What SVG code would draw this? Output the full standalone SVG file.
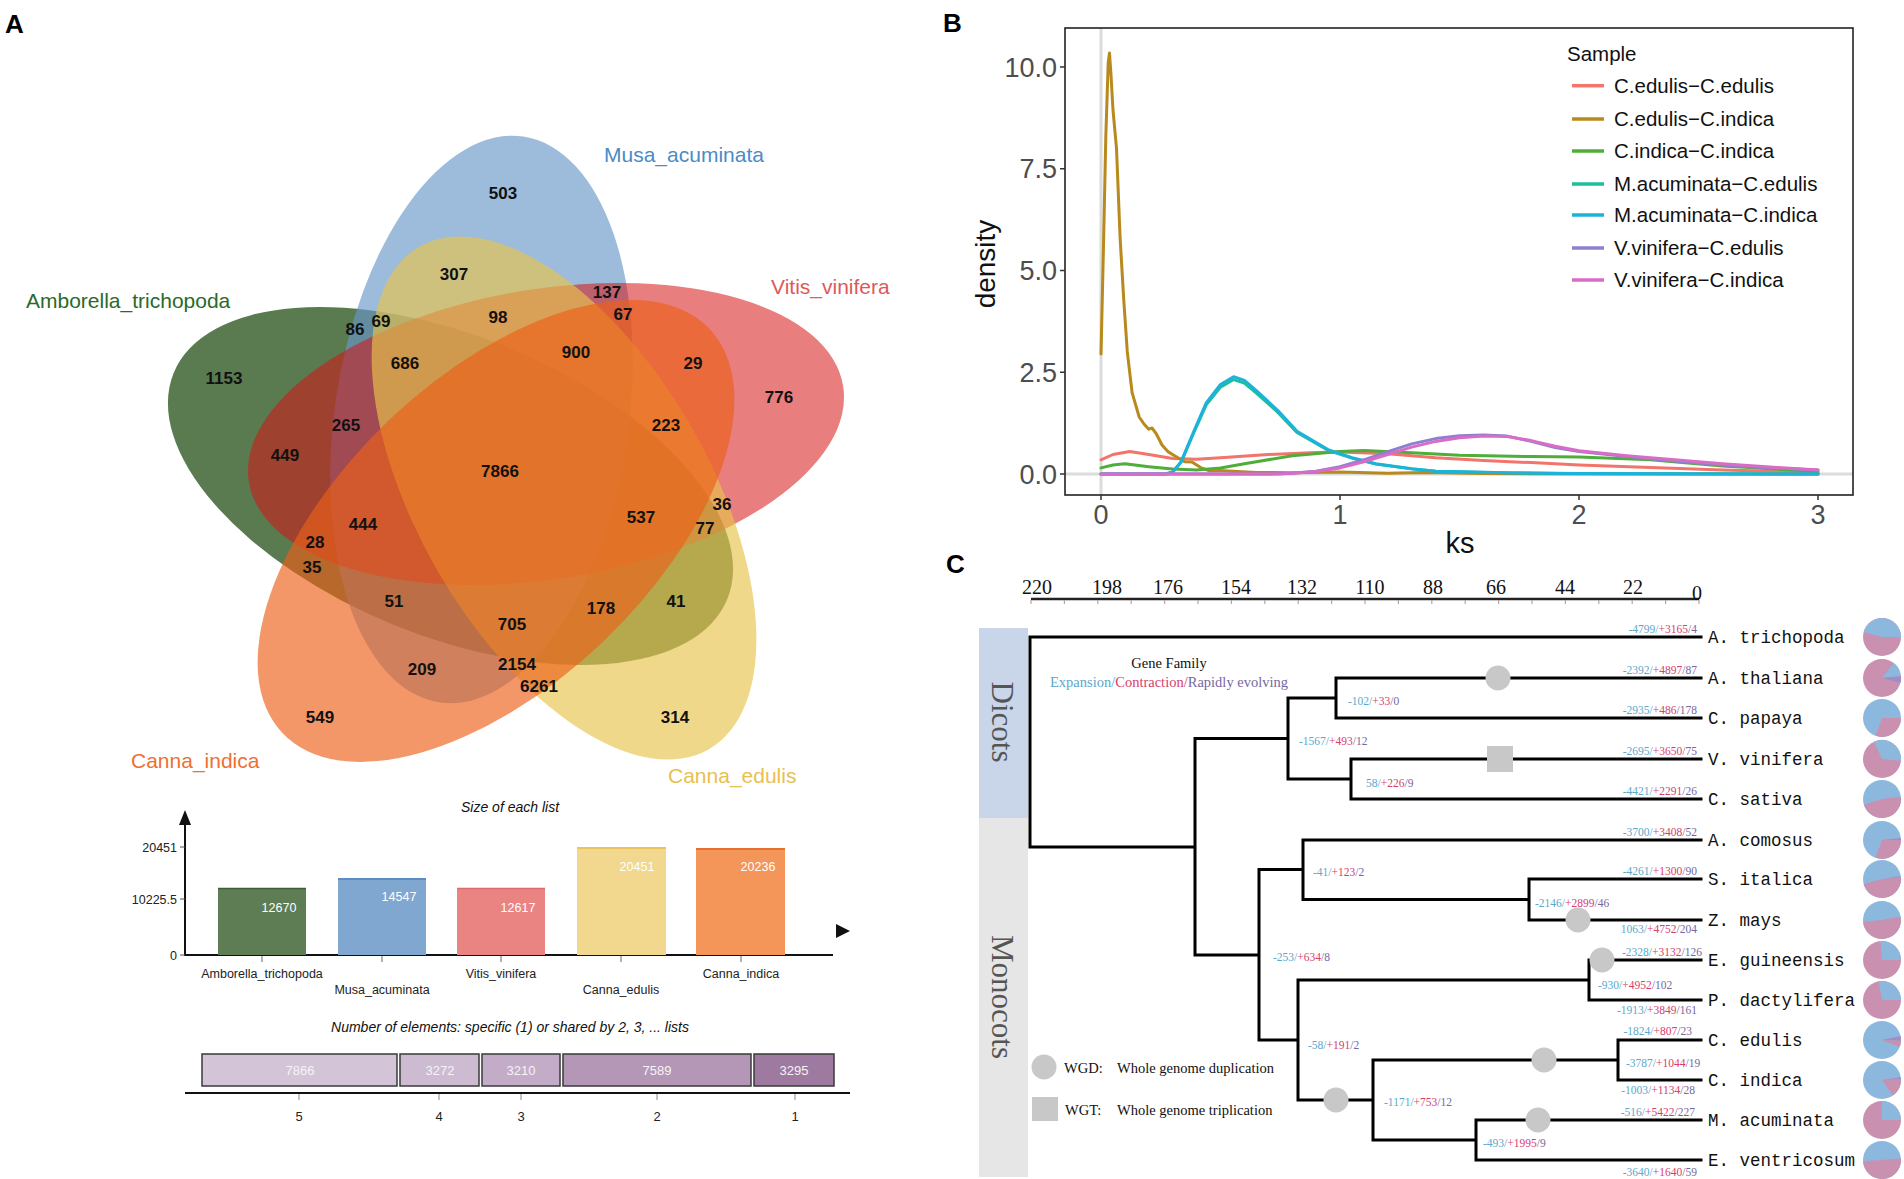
<svg xmlns="http://www.w3.org/2000/svg" width="1904" height="1179" viewBox="0 0 1904 1179">
<style>
.pl{font-family:"Liberation Sans",Arial,sans-serif;font-weight:bold;font-size:26px;fill:#000}
.vn{font-family:"Liberation Sans",Arial,sans-serif;font-weight:bold;font-size:17px;fill:#111;text-anchor:middle}
.vl{font-family:"Liberation Sans",Arial,sans-serif;font-size:21px}
.sm{font-family:"Liberation Sans",Arial,sans-serif;font-size:12.5px;fill:#222}
.smw{font-family:"Liberation Sans",Arial,sans-serif;font-size:12.5px;fill:#fff;text-anchor:middle}
.it{font-family:"Liberation Sans",Arial,sans-serif;font-style:italic;font-size:14px;fill:#111;text-anchor:middle}
.tk{font-family:"Liberation Sans",Arial,sans-serif;font-size:27px;fill:#4d4d4d}
.lg{font-family:"Liberation Sans",Arial,sans-serif;font-size:20.5px;fill:#111}
.cur{fill:none;stroke-width:3;stroke-linejoin:round;stroke-linecap:round}
.ser{font-family:"Liberation Serif","Times New Roman",serif}
.sp{font-family:"Liberation Mono","Courier New",monospace;font-size:17.5px;fill:#111}
.bl{font-family:"Liberation Serif","Times New Roman",serif;font-size:11.5px}
.e{fill:#5aa8cc}.c{fill:#d8406c}.r{fill:#76679e}
.br{fill:none;stroke:#000;stroke-width:3;stroke-linecap:square}
.wgd{fill:#c8c8c8}
.pb{fill:#8cb8de}.pp{fill:#c990b0}.pu{fill:#a08cc8}
</style>

<!-- Panel labels -->
<text class="pl" x="5" y="33">A</text>
<text class="pl" x="943" y="32">B</text>
<text class="pl" x="946" y="573">C</text>

<!-- ===== Panel A: Venn ===== -->
<g id="venn">
  <ellipse id="set-amborella" cx="450.5" cy="486" rx="299" ry="150" transform="rotate(22.2 450.5 486)" fill="#3d6331" fill-opacity="0.85"/>
  <ellipse id="set-musa" cx="481.5" cy="419.5" rx="286" ry="147" transform="rotate(98.4 481.5 419.5)" fill="#6898c9" fill-opacity="0.65"/>
  <ellipse id="set-vitis" cx="546" cy="434" rx="301" ry="145" transform="rotate(-9.2 546 434)" fill="#d71414" fill-opacity="0.55"/>
  <ellipse id="set-edulis" cx="564" cy="498" rx="290" ry="146" transform="rotate(60 564 498)" fill="#e8c34b" fill-opacity="0.65"/>
  <ellipse id="set-indica" cx="496" cy="531" rx="294" ry="154" transform="rotate(-43.4 496 531)" fill="#ec6018" fill-opacity="0.65"/>
</g>
<g id="venn-labels">
  <text class="vl" x="604" y="162" fill="#4a8cc6">Musa_acuminata</text>
  <text class="vl" x="771" y="294" fill="#e05858">Vitis_vinifera</text>
  <text class="vl" x="26" y="308" fill="#2a6a2a">Amborella_trichopoda</text>
  <text class="vl" x="131" y="768" fill="#ee7030">Canna_indica</text>
  <text class="vl" x="668" y="783" fill="#e8c050">Canna_edulis</text>
</g>
<g id="venn-counts">
  <text class="vn" x="503" y="199">503</text>
  <text class="vn" x="454" y="280">307</text>
  <text class="vn" x="607" y="298">137</text>
  <text class="vn" x="498" y="323">98</text>
  <text class="vn" x="623" y="320">67</text>
  <text class="vn" x="355" y="335">86</text>
  <text class="vn" x="381" y="327">69</text>
  <text class="vn" x="576" y="358">900</text>
  <text class="vn" x="405" y="369">686</text>
  <text class="vn" x="693" y="369">29</text>
  <text class="vn" x="224" y="384">1153</text>
  <text class="vn" x="779" y="403">776</text>
  <text class="vn" x="346" y="431">265</text>
  <text class="vn" x="666" y="431">223</text>
  <text class="vn" x="285" y="461">449</text>
  <text class="vn" x="500" y="477">7866</text>
  <text class="vn" x="722" y="510">36</text>
  <text class="vn" x="641" y="523">537</text>
  <text class="vn" x="363" y="530">444</text>
  <text class="vn" x="705" y="534">77</text>
  <text class="vn" x="315" y="548">28</text>
  <text class="vn" x="312" y="573">35</text>
  <text class="vn" x="394" y="607">51</text>
  <text class="vn" x="676" y="607">41</text>
  <text class="vn" x="601" y="614">178</text>
  <text class="vn" x="512" y="630">705</text>
  <text class="vn" x="517" y="670">2154</text>
  <text class="vn" x="422" y="675">209</text>
  <text class="vn" x="539" y="692">6261</text>
  <text class="vn" x="320" y="723">549</text>
  <text class="vn" x="675" y="723">314</text>
</g>

<!-- ===== Panel A: Size of each list ===== -->
<g id="size-chart">
  <text class="it" x="510" y="812">Size of each list</text>
  <polygon points="185,810 179,825 191,825" fill="#111"/>
  <line x1="185" y1="822" x2="185" y2="955" stroke="#111" stroke-width="2"/>
  <line x1="184" y1="955" x2="833" y2="955" stroke="#111" stroke-width="2"/>
  <polygon points="836,924 836,938 850,931" fill="#111"/>
  <path d="M180,847H185M180,899H185M180,955H185" stroke="#555" stroke-width="1"/>
  <text class="sm" x="177" y="852" text-anchor="end">20451</text>
  <text class="sm" x="177" y="904" text-anchor="end">10225.5</text>
  <text class="sm" x="177" y="960" text-anchor="end">0</text>
  <g id="bar-amborella"><rect x="218" y="888" width="88" height="67" fill="#5e7d55"/><line x1="218" y1="888.5" x2="306" y2="888.5" stroke="#3f5e38" stroke-width="1.5"/><text class="smw" x="279" y="912">12670</text></g>
  <g id="bar-musa"><rect x="338" y="878" width="88" height="77" fill="#7fa7d0"/><line x1="338" y1="879" x2="426" y2="879" stroke="#5b8cc2" stroke-width="2"/><text class="smw" x="399" y="901">14547</text></g>
  <g id="bar-vitis"><rect x="457" y="888" width="88" height="67" fill="#ea8482"/><line x1="457" y1="888.5" x2="545" y2="888.5" stroke="#e06a68" stroke-width="1.5"/><text class="smw" x="518" y="912">12617</text></g>
  <g id="bar-edulis"><rect x="577" y="847" width="89" height="108" fill="#f1d88e"/><line x1="577" y1="848" x2="666" y2="848" stroke="#e8c45a" stroke-width="2"/><text class="smw" x="637" y="871">20451</text></g>
  <g id="bar-indica"><rect x="696" y="848" width="89" height="107" fill="#f4955a"/><line x1="696" y1="849" x2="785" y2="849" stroke="#e8702e" stroke-width="2"/><text class="smw" x="758" y="871">20236</text></g>
  <path d="M262,956V962M382,956V962M501,956V962M621,956V962M741,956V962" stroke="#666" stroke-width="1"/>
  <text class="sm" x="262" y="978" text-anchor="middle">Amborella_trichopoda</text>
  <text class="sm" x="382" y="994" text-anchor="middle">Musa_acuminata</text>
  <text class="sm" x="501" y="978" text-anchor="middle">Vitis_vinifera</text>
  <text class="sm" x="621" y="994" text-anchor="middle">Canna_edulis</text>
  <text class="sm" x="741" y="978" text-anchor="middle">Canna_indica</text>
</g>

<!-- ===== Panel A: shared elements ===== -->
<g id="shared-chart">
  <text class="it" x="510" y="1032">Number of elements: specific (1) or shared by 2, 3, ... lists</text>
  <g stroke="#3a3a3a" stroke-width="1.5">
    <rect id="seg5" x="202" y="1054" width="195" height="32" fill="#d3c5d7"/>
    <rect id="seg4" x="400" y="1054" width="79" height="32" fill="#cdbbd1"/>
    <rect id="seg3" x="482" y="1054" width="78" height="32" fill="#c3acc8"/>
    <rect id="seg2" x="563" y="1054" width="188" height="32" fill="#b497b7"/>
    <rect id="seg1" x="754" y="1054" width="80" height="32" fill="#9e79a0"/>
  </g>
  <g class="smw" style="font-size:13px;fill:#f4f4f4">
    <text x="300" y="1075">7866</text>
    <text x="440" y="1075">3272</text>
    <text x="521" y="1075">3210</text>
    <text x="657" y="1075">7589</text>
    <text x="794" y="1075">3295</text>
  </g>
  <line x1="185" y1="1093" x2="850" y2="1093" stroke="#111" stroke-width="2"/>
  <path d="M299,1094V1100M439,1094V1100M521,1094V1100M657,1094V1100M795,1094V1100" stroke="#888" stroke-width="1"/>
  <g class="sm" text-anchor="middle" style="font-size:13px">
    <text x="299" y="1121">5</text>
    <text x="439" y="1121">4</text>
    <text x="521" y="1121">3</text>
    <text x="657" y="1121">2</text>
    <text x="795" y="1121">1</text>
  </g>
</g>

<!-- ===== Panel B: Ks density ===== -->
<g id="ks-plot">
  <rect x="1065" y="28" width="788" height="467" fill="#fff"/>
  <line x1="1101" y1="28" x2="1101" y2="495" stroke="#dcdcdc" stroke-width="3"/>
  <line x1="1065" y1="474" x2="1853" y2="474" stroke="#dcdcdc" stroke-width="3"/>
  <g id="curves">
    <polyline class="cur" stroke="#f2746b" points="1101,459.8 1113,454.5 1129.7,451.6 1148.8,454.5 1172.7,458.5 1196.6,459.3 1220.5,457.7 1268.3,454.5 1316.1,452.4 1340,452 1387.8,453.7 1435.6,457.7 1483.4,460.6 1531.2,462.6 1579,465 1650.7,467.5 1722.4,469.9 1818,472.4"/>
    <polyline class="cur" stroke="#b8891c" stroke-width="2.5" points="1101,354 1103.4,250 1105.8,137 1108.2,63 1109.5,53 1111,75 1113,110 1116.5,148.4 1120.1,237.9 1123.7,299 1127.3,351.9 1132.1,392.6 1139.2,417 1144,424 1148.8,429.2 1152,428 1156,433.3 1162,445 1167.9,451.6 1175,456 1184.7,461.8 1192,462 1201.4,467.9 1210,471 1220,470.5 1232.5,471.2 1256.4,472.4 1292.2,472.8 1340,472 1387.8,473.2 1423.7,472.4 1483.4,473.6 1579,474 1818,474"/>
    <polyline class="cur" stroke="#4fae3a" points="1101,467.9 1113,465 1124.9,463.8 1148.8,466.7 1172.7,469.1 1196.6,469.9 1220.5,467.9 1244.4,463.8 1292.2,455.7 1340,451.6 1363.9,450.4 1411.7,452.8 1459.5,455.3 1531.2,456.5 1579,456.9 1650.7,459.8 1722.4,465.9 1818,471.6"/>
    <polyline class="cur" stroke="#1dbf9a" transform="translate(0,474) scale(1,0.97) translate(0,-474)" points="1101,474 1165.5,474 1172.7,472 1181.1,461.8 1193,433.3 1206.2,402.8 1220.5,384.5 1233.6,376.7 1244.4,380.4 1256.4,390.6 1277.9,410.5 1297,431.3 1328,449.6 1352,457.7 1375.9,463.8 1411.7,468.7 1435.6,471.2 1507.3,472.8 1579,473.6 1818,474"/>
    <polyline class="cur" stroke="#1cb2da" points="1101,474 1165.5,474 1172.7,472 1181.1,461.8 1193,433.3 1206.2,402.8 1220.5,384.5 1233.6,376.7 1244.4,380.4 1256.4,390.6 1277.9,410.5 1297,431.3 1328,449.6 1352,457.7 1375.9,463.8 1411.7,468.7 1435.6,471.2 1507.3,472.8 1579,473.6 1818,474"/>
    <polyline class="cur" stroke="#8e80d0" points="1101,474 1268.3,474 1292.2,473.2 1316.1,471.2 1340,466.7 1363.9,459.8 1387.8,451.6 1411.7,443.9 1435.6,438.6 1459.5,435.7 1483.4,434.9 1507.3,436.1 1531.2,441.4 1555.1,447.5 1579,451.6 1626.8,456.5 1674.6,461 1722.4,465 1770.2,467.9 1818,469.9"/>
    <polyline class="cur" stroke="#d86cc6" points="1101,474 1280.3,474 1316.1,471.6 1340,467.9 1363.9,461.8 1387.8,454.5 1411.7,447.1 1435.6,441.4 1459.5,437.8 1483.4,436.1 1507.3,436.6 1531.2,440.6 1555.1,446.3 1579,450.8 1626.8,455.7 1674.6,459.8 1722.4,463.8 1770.2,467.1 1818,469.9"/>
  </g>
  <rect x="1065" y="28" width="788" height="467" fill="none" stroke="#222" stroke-width="1.6"/>
  <path d="M1060,67H1065M1060,168.8H1065M1060,270.5H1065M1060,372.3H1065M1060,474H1065M1101,495V500M1340,495V500M1579,495V500M1818,495V500" stroke="#333" stroke-width="1.5"/>
  <g class="tk" text-anchor="end">
    <text x="1057" y="77">10.0</text>
    <text x="1057" y="178">7.5</text>
    <text x="1057" y="280">5.0</text>
    <text x="1057" y="382">2.5</text>
    <text x="1057" y="484">0.0</text>
  </g>
  <g class="tk" text-anchor="middle">
    <text x="1101" y="524">0</text>
    <text x="1340" y="524">1</text>
    <text x="1579" y="524">2</text>
    <text x="1818" y="524">3</text>
  </g>
  <text x="1460" y="553" text-anchor="middle" style="font-family:'Liberation Sans',Arial,sans-serif;font-size:29px;fill:#111">ks</text>
  <text transform="translate(995,264) rotate(-90)" text-anchor="middle" style="font-family:'Liberation Sans',Arial,sans-serif;font-size:28px;fill:#111">density</text>
  <g id="legend">
    <text class="lg" x="1567" y="61">Sample</text>
    <g stroke-width="3.5">
      <line x1="1572" y1="85.7" x2="1604" y2="85.7" stroke="#f2746b"/>
      <line x1="1572" y1="119" x2="1604" y2="119" stroke="#b8891c"/>
      <line x1="1572" y1="151" x2="1604" y2="151" stroke="#4fae3a"/>
      <line x1="1572" y1="184" x2="1604" y2="184" stroke="#1dbf9a"/>
      <line x1="1572" y1="215" x2="1604" y2="215" stroke="#1cb2da"/>
      <line x1="1572" y1="248" x2="1604" y2="248" stroke="#8e80d0"/>
      <line x1="1572" y1="280" x2="1604" y2="280" stroke="#d86cc6"/>
    </g>
    <text class="lg" x="1614" y="93">C.edulis−C.edulis</text>
    <text class="lg" x="1614" y="126">C.edulis−C.indica</text>
    <text class="lg" x="1614" y="158">C.indica−C.indica</text>
    <text class="lg" x="1614" y="191">M.acuminata−C.edulis</text>
    <text class="lg" x="1614" y="222">M.acuminata−C.indica</text>
    <text class="lg" x="1614" y="255">V.vinifera−C.edulis</text>
    <text class="lg" x="1614" y="287">V.vinifera−C.indica</text>
  </g>
</g>

<!-- ===== Panel C: phylogeny ===== -->
<g id="time-axis">
  <line x1="1031" y1="599" x2="1699" y2="599" stroke="#222" stroke-width="2.5"/>
  <path d="M1031,600v4M1064.4,600v4M1097.8,600v4M1131.2,600v4M1164.6,600v4M1198,600v4M1231.4,600v4M1264.8,600v4M1298.2,600v4M1331.6,600v4M1365,600v4M1398.4,600v4M1431.8,600v4M1465.2,600v4M1498.6,600v4M1532,600v4M1565.4,600v4M1598.8,600v4M1632.2,600v4M1665.6,600v4M1699,600v4" stroke="#b9a0aa" stroke-width="1.2"/>
  <g class="ser" style="font-size:20px;fill:#111" text-anchor="middle">
    <text x="1037" y="594">220</text>
    <text x="1107" y="594">198</text>
    <text x="1168" y="594">176</text>
    <text x="1236" y="594">154</text>
    <text x="1302" y="594">132</text>
    <text x="1370" y="594">110</text>
    <text x="1433" y="594">88</text>
    <text x="1496" y="594">66</text>
    <text x="1565" y="594">44</text>
    <text x="1633" y="594">22</text>
    <text x="1697" y="600">0</text>
  </g>
</g>

<g id="clade-bars">
  <rect x="979" y="628" width="49" height="190" fill="#c9d5e9"/>
  <rect x="979" y="818" width="49" height="359" fill="#e6e6e6"/>
  <text class="ser" transform="translate(992,722) rotate(90)" text-anchor="middle" style="font-size:31px;fill:#555">Dicots</text>
  <text class="ser" transform="translate(992,997) rotate(90)" text-anchor="middle" style="font-size:31px;fill:#555">Monocots</text>
</g>

<g id="gene-family-legend" class="ser">
  <text x="1169" y="668" text-anchor="middle" style="font-size:14.5px;fill:#111">Gene Family</text>
  <text x="1169" y="687" text-anchor="middle" style="font-size:14.5px"><tspan class="e">Expansion/</tspan><tspan class="c">Contraction/</tspan><tspan class="r">Rapidly evolving</tspan></text>
</g>

<g id="connectors">
  <path class="br" d="M1030,637H1701 M1030,637V847H1195 M1195,738.5V955
  M1195,738.5H1288 M1288,698V779 M1288,698H1336 M1336,678V718 M1336,678H1701 M1336,718H1701
  M1288,779H1351 M1351,759V799 M1351,759H1701 M1351,799H1701
  M1195,955H1259 M1259,869.5V1040 M1259,869.5H1303 M1303,840V899.5 M1303,840H1701
  M1303,899.5H1529 M1529,879V920 M1529,879H1701 M1529,920H1701
  M1259,1040H1298 M1298,980V1100 M1298,980H1589 M1589,960V1000 M1589,960H1701 M1589,1000H1701
  M1298,1100H1373 M1373,1060V1140 M1373,1060H1618 M1618,1040V1080 M1618,1040H1701 M1618,1080H1701
  M1373,1140H1476 M1476,1120V1160 M1476,1120H1701 M1476,1160H1701"/>
</g>

<g id="events">
  <circle class="wgd" cx="1498" cy="678" r="12.5"/>
  <rect class="wgd" x="1487" y="746" width="26" height="26"/>
  <circle class="wgd" cx="1578" cy="920" r="12.5"/>
  <circle class="wgd" cx="1602" cy="960" r="12.5"/>
  <circle class="wgd" cx="1336" cy="1100" r="12.5"/>
  <circle class="wgd" cx="1544" cy="1060" r="12.5"/>
  <circle class="wgd" cx="1538" cy="1120" r="12.5"/>
</g>

<g id="event-legend" class="ser" style="font-size:14.5px;fill:#111">
  <circle class="wgd" cx="1044" cy="1067" r="12.5"/>
  <rect class="wgd" x="1032" y="1097" width="26" height="24"/>
  <text x="1064" y="1073">WGD:</text><text x="1117" y="1073">Whole genome duplication</text>
  <text x="1065" y="1115">WGT:</text><text x="1117" y="1115">Whole genome triplication</text>
</g>

<g id="node-labels" class="bl">
  <text x="1348" y="705"><tspan class="e">-102/</tspan><tspan class="c">+33</tspan><tspan class="r">/0</tspan></text>
  <text x="1299" y="745"><tspan class="e">-1567/</tspan><tspan class="c">+493</tspan><tspan class="r">/12</tspan></text>
  <text x="1366" y="787"><tspan class="e">58/</tspan><tspan class="c">+226</tspan><tspan class="r">/9</tspan></text>
  <text x="1313" y="876"><tspan class="e">-41/</tspan><tspan class="c">+123</tspan><tspan class="r">/2</tspan></text>
  <text x="1535" y="907"><tspan class="e">-2146/</tspan><tspan class="c">+2899</tspan><tspan class="r">/46</tspan></text>
  <text x="1273" y="961"><tspan class="e">-253/</tspan><tspan class="c">+634</tspan><tspan class="r">/8</tspan></text>
  <text x="1598" y="989"><tspan class="e">-930/</tspan><tspan class="c">+4952</tspan><tspan class="r">/102</tspan></text>
  <text x="1308" y="1049"><tspan class="e">-58/</tspan><tspan class="c">+191</tspan><tspan class="r">/2</tspan></text>
  <text x="1626" y="1067"><tspan class="e">-3787/</tspan><tspan class="c">+1044</tspan><tspan class="r">/19</tspan></text>
  <text x="1384" y="1106"><tspan class="e">-1171/</tspan><tspan class="c">+753</tspan><tspan class="r">/12</tspan></text>
  <text x="1483" y="1147"><tspan class="e">-493/</tspan><tspan class="c">+1995</tspan><tspan class="r">/9</tspan></text>
</g>

<g id="tips">
  <g id="tip-atrichopoda">
    <text class="bl" x="1697" y="633" text-anchor="end"><tspan class="e">-4799/</tspan><tspan class="c">+3165</tspan><tspan class="r">/4</tspan></text>
    <text class="sp" x="1708" y="643">A. trichopoda</text>
    <g transform="translate(1882,637)"><circle r="19" class="pp"/><path class="pb" d="M0,0L-18.35,-4.92A19,19 0 0 1 19,0Z"/></g>
  </g>
  <g id="tip-athaliana">
    <text class="bl" x="1697" y="674" text-anchor="end"><tspan class="e">-2392/</tspan><tspan class="c">+4897</tspan><tspan class="r">/87</tspan></text>
    <text class="sp" x="1708" y="684">A. thaliana</text>
    <g transform="translate(1882,678)"><circle r="19" class="pp"/><path class="pb" d="M0,0L11.7,-14.97A19,19 0 0 1 18.93,-1.66Z"/><path class="pu" d="M0,0L18.93,-1.66A19,19 0 0 1 18.35,4.92Z"/></g>
  </g>
  <g id="tip-cpapaya">
    <text class="bl" x="1697" y="714" text-anchor="end"><tspan class="e">-2935/</tspan><tspan class="c">+486</tspan><tspan class="r">/178</tspan></text>
    <text class="sp" x="1708" y="724">C. papaya</text>
    <g transform="translate(1882,718)"><circle r="19" class="pb"/><path class="pp" d="M0,0L19,0A19,19 0 0 1 -6.5,17.85Z"/></g>
  </g>
  <g id="tip-vvinifera">
    <text class="bl" x="1697" y="755" text-anchor="end"><tspan class="e">-2695/</tspan><tspan class="c">+3650</tspan><tspan class="r">/75</tspan></text>
    <text class="sp" x="1708" y="765">V. vinifera</text>
    <g transform="translate(1882,759)"><circle r="19" class="pp"/><path class="pb" d="M0,0L-8.03,-17.22A19,19 0 0 1 18.93,1.66Z"/></g>
  </g>
  <g id="tip-csativa">
    <text class="bl" x="1697" y="795" text-anchor="end"><tspan class="e">-4421/</tspan><tspan class="c">+2291</tspan><tspan class="r">/26</tspan></text>
    <text class="sp" x="1708" y="805">C. sativa</text>
    <g transform="translate(1882,799)"><circle r="19" class="pb"/><path class="pp" d="M0,0L18.86,-2.32A19,19 0 0 1 -18.07,5.87Z"/></g>
  </g>
  <g id="tip-acomosus">
    <text class="bl" x="1697" y="836" text-anchor="end"><tspan class="e">-3700/</tspan><tspan class="c">+3408</tspan><tspan class="r">/52</tspan></text>
    <text class="sp" x="1708" y="846">A. comosus</text>
    <g transform="translate(1882,840)"><circle r="19" class="pb"/><path class="pp" d="M0,0L19,0A19,19 0 0 1 -6.5,17.85Z"/><path class="pu" d="M0,0L18.9,-1.99A19,19 0 0 1 19,0Z"/></g>
  </g>
  <g id="tip-sitalica">
    <text class="bl" x="1697" y="875" text-anchor="end"><tspan class="e">-4261/</tspan><tspan class="c">+1300</tspan><tspan class="r">/90</tspan></text>
    <text class="sp" x="1708" y="885">S. italica</text>
    <g transform="translate(1882,879)"><circle r="19" class="pb"/><path class="pp" d="M0,0L18.93,-1.66A19,19 0 0 1 -18.35,4.92Z"/><path class="pu" d="M0,0L18.82,-2.64A19,19 0 0 1 18.93,-1.66Z"/></g>
  </g>
  <g id="tip-zmays">
    <text class="bl" x="1697" y="933" text-anchor="end"><tspan class="e">1063/</tspan><tspan class="c">+4752</tspan><tspan class="r">/204</tspan></text>
    <text class="sp" x="1708" y="926">Z. mays</text>
    <g transform="translate(1882,920)"><circle r="19" class="pb"/><path class="pp" d="M0,0L18.71,-3.3A19,19 0 1 1 -18.93,1.66Z"/></g>
  </g>
  <g id="tip-eguineensis">
    <text class="bl" x="1702" y="956" text-anchor="end"><tspan class="e">-2328/</tspan><tspan class="c">+3132</tspan><tspan class="r">/126</tspan></text>
    <text class="sp" x="1708" y="966">E. guineensis</text>
    <g transform="translate(1882,960)"><circle r="19" class="pp"/><path class="pb" d="M0,0L-1.66,-18.93A19,19 0 0 1 19,0Z"/></g>
  </g>
  <g id="tip-pdactylifera">
    <text class="bl" x="1697" y="1014" text-anchor="end"><tspan class="e">-1913/</tspan><tspan class="c">+3849</tspan><tspan class="r">/161</tspan></text>
    <text class="sp" x="1708" y="1006">P. dactylifera</text>
    <g transform="translate(1882,1000)"><circle r="19" class="pp"/><path class="pb" d="M0,0L-3.3,-18.71A19,19 0 0 1 19,0Z"/></g>
  </g>
  <g id="tip-cedulis">
    <text class="bl" x="1692" y="1035" text-anchor="end"><tspan class="e">-1824/</tspan><tspan class="c">+807</tspan><tspan class="r">/23</tspan></text>
    <text class="sp" x="1708" y="1046">C. edulis</text>
    <g transform="translate(1882,1040)"><circle r="19" class="pb"/><path class="pu" d="M0,0L18.58,-3.95A19,19 0 0 1 18.99,0.66Z"/><path class="pp" d="M0,0L18.99,0.66A19,19 0 0 1 17.62,7.12Z"/></g>
  </g>
  <g id="tip-cindica">
    <text class="bl" x="1695" y="1094" text-anchor="end"><tspan class="e">-1003/</tspan><tspan class="c">+1134</tspan><tspan class="r">/28</tspan></text>
    <text class="sp" x="1708" y="1086">C. indica</text>
    <g transform="translate(1882,1080)"><circle r="19" class="pb"/><path class="pp" d="M0,0L18.97,-0.99A19,19 0 0 1 10.9,15.56Z"/><path class="pu" d="M0,0L18.82,-2.64A19,19 0 0 1 18.97,-0.99Z"/></g>
  </g>
  <g id="tip-macuminata">
    <text class="bl" x="1695" y="1116" text-anchor="end"><tspan class="e">-516/</tspan><tspan class="c">+5422</tspan><tspan class="r">/227</tspan></text>
    <text class="sp" x="1708" y="1126">M. acuminata</text>
    <g transform="translate(1882,1120)"><circle r="19" class="pp"/><path class="pb" d="M0,0L0,-19A19,19 0 0 1 19,0Z"/></g>
  </g>
  <g id="tip-eventricosum">
    <text class="bl" x="1697" y="1176" text-anchor="end"><tspan class="e">-3640/</tspan><tspan class="c">+1640</tspan><tspan class="r">/59</tspan></text>
    <text class="sp" x="1708" y="1166">E. ventricosum</text>
    <g transform="translate(1882,1160)"><circle r="19" class="pb"/><path class="pp" d="M0,0L18.93,-1.66A19,19 0 1 1 -18.95,1.33Z"/></g>
  </g>
</g>
</svg>
